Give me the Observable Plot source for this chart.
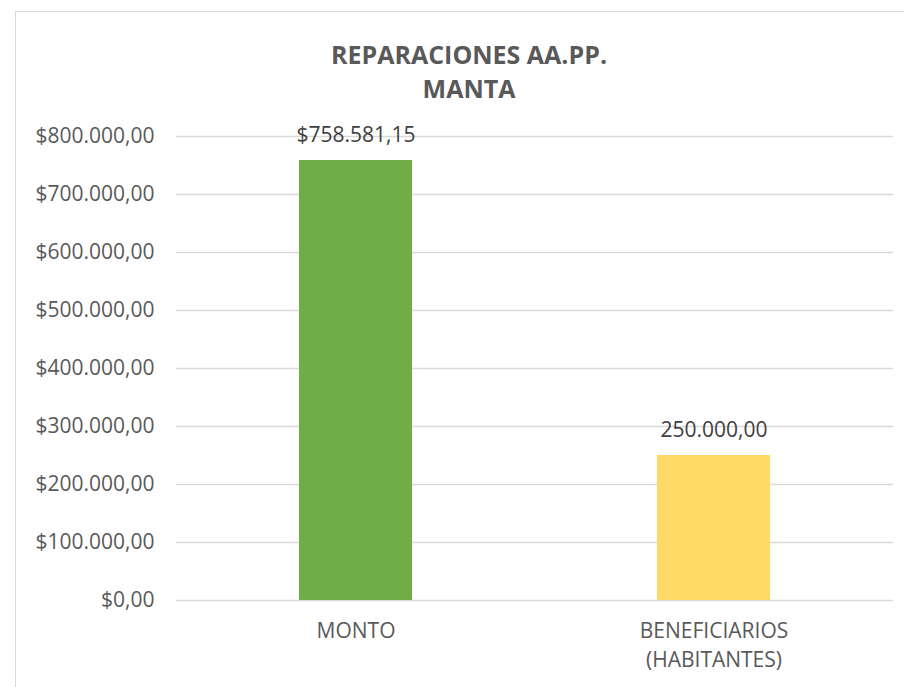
<!DOCTYPE html>
<html>
<head>
<meta charset="utf-8">
<script src="https://cdn.jsdelivr.net/npm/d3@7"></script>
<script src="https://cdn.jsdelivr.net/npm/@observablehq/plot@0.6"></script>
<style>
  html, body { margin: 0; padding: 0; background: #fff; }
  body { width: 904px; height: 687px; position: relative; overflow: hidden; font-family: "Open Sans", sans-serif; }
  #frame { position: absolute; left: 15px; top: 11px; width: 1000px; height: 800px; border-left: 1.5px solid #d9d9d9; border-top: 1.5px solid #d9d9d9; box-sizing: border-box; }
  #title { position: absolute; left: 0; top: 37px; width: 938px; text-align: center; color: #595959; font-weight: bold; font-size: 25px; line-height: 34px; }
  #chart { position: absolute; left: 0; top: 100px; }
</style>
</head>
<body>
<div id="frame"></div>
<div id="title">REPARACIONES AA.PP.<br>MANTA</div>
<div id="chart"></div>
<script>
const categories = ["MONTO", "BENEFICIARIOS\n(HABITANTES)"];
const values = [758581.15, 250000];
const valueLabels = ["$758.581,15", "250.000,00"];
const colors = ["#70AD47", "#FFD966"];
const yTicks = [0, 100000, 200000, 300000, 400000, 500000, 600000, 700000, 800000];
const yTickLabels = ["$0,00", "$100.000,00", "$200.000,00", "$300.000,00", "$400.000,00", "$500.000,00", "$600.000,00", "$700.000,00", "$800.000,00"];

const data = categories.map((c, i) => ({cat: c, value: values[i], label: valueLabels[i], color: colors[i]}));

const chart = Plot.plot({
  width: 904,
  height: 587,
  marginLeft: 176,
  marginRight: 11,
  marginTop: 36,
  marginBottom: 87,
  style: {fontFamily: "Open Sans, sans-serif", color: "#595959", background: "transparent"},
  x: {domain: categories, paddingInner: 0.684, paddingOuter: 0.342, label: null},
  y: {domain: [0, 800000], label: null},
  marks: [
    Plot.gridY(yTicks, {stroke: "#d9d9d9", strokeOpacity: 1, strokeWidth: 1.3}),
    Plot.barY(data, {x: "cat", y: "value", fill: "color"}),
    Plot.text(data, {x: "cat", y: "value", text: "label", dy: -25, fontSize: 21, fill: "#404040", lineAnchor: "middle"}),
    Plot.axisY({ticks: yTicks, tickFormat: (d) => yTickLabels[yTicks.indexOf(d)], tickSize: 0, tickPadding: 22, fontSize: 21, fill: "#595959", label: null}),
    Plot.axisX({tickSize: 0, tickPadding: 17, fontSize: 21, fill: "#595959", lineHeight: 1.38, label: null})
  ]
});
document.getElementById("chart").appendChild(chart);
</script>
</body>
</html>
